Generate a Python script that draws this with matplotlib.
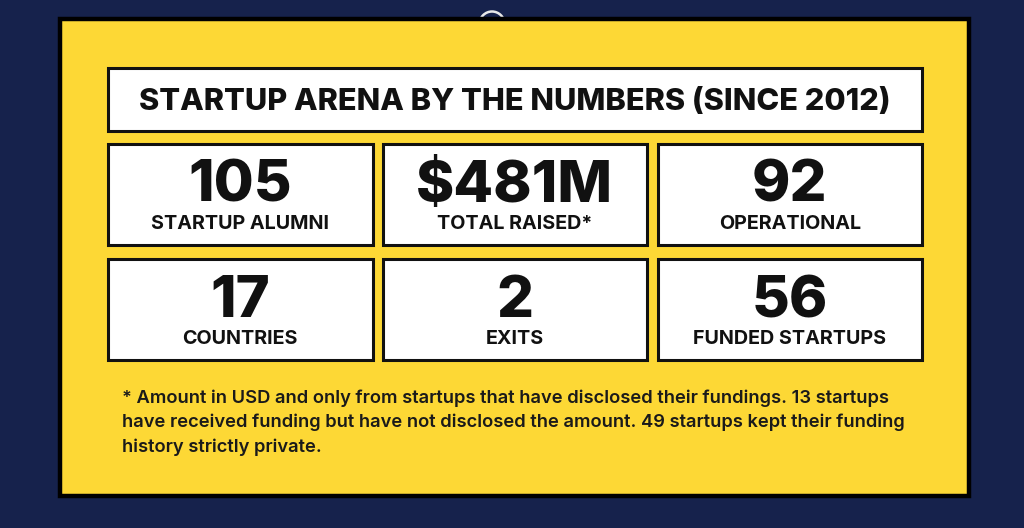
import matplotlib
matplotlib.use("Agg")
import matplotlib.pyplot as plt
from matplotlib.patches import Rectangle, Circle

title = "STARTUP ARENA BY THE NUMBERS (SINCE 2012)"
values = ["105", "$481M", "92", "17", "2", "56"]
labels = ["STARTUP ALUMNI", "TOTAL RAISED*", "OPERATIONAL",
          "COUNTRIES", "EXITS", "FUNDED STARTUPS"]
footnote_lines = [
    "* Amount in USD and only from startups that have disclosed their fundings. 13 startups",
    "have received funding but have not disclosed the amount. 49 startups kept their funding",
    "history strictly private.",
]

NAVY = "#16224c"
YELLOW = "#fdd835"
INK = "#111111"
HEAD = ["Inter", "DejaVu Sans"]
BODY = ["Inter", "DejaVu Sans"]

fig = plt.figure(figsize=(10.24, 5.28), dpi=100)
fig.patch.set_facecolor(NAVY)
ax = fig.add_axes([0, 0, 1, 1])
ax.set_xlim(0, 1024)
ax.set_ylim(528, 0)
ax.axis("off")
renderer = fig.canvas.get_renderer()


def fit(t, target_px):
    """Scale a text's font size so its rendered width is target_px."""
    wpx = t.get_window_extent(renderer).width
    t.set_fontsize(t.get_fontsize() * target_px / wpx)
    return t.get_fontsize()


# small ring peeking behind panel
ax.add_patch(Circle((492, 24), 12.5, fill=False, ec="#e8e8e8", lw=1.8, zorder=1))

# yellow panel
ax.add_patch(Rectangle((59.5, 19), 909, 477, fc=YELLOW, ec="black", lw=3.2, zorder=2))

# title box
ax.add_patch(Rectangle((108, 67.5), 814, 63, fc="white", ec=INK, lw=2.2, zorder=3))
tt = ax.text(515, 110, title, ha="center", va="baseline", fontsize=18,
             fontweight=800, family=HEAD, color=INK, zorder=4)
fit(tt, 750)

xs = [108, 382.5, 657.5]
ys = [143.5, 258.5]
w, h = 264.5, 101
num_texts, lab_texts = [], []
for i, (v, lab) in enumerate(zip(values, labels)):
    x0 = xs[i % 3]
    y0 = ys[i // 3]
    ax.add_patch(Rectangle((x0, y0), w, h, fc="white", ec=INK, lw=2.2, zorder=3))
    cx = x0 + w / 2
    num_texts.append(ax.text(cx, y0 + 58.5, v, ha="center", va="baseline", fontsize=42,
                             fontweight=800, family=HEAD, color=INK, zorder=4))
    lab_texts.append(ax.text(cx, y0 + 85.5, lab, ha="center", va="baseline", fontsize=13,
                             fontweight=700, family=HEAD, color=INK, zorder=4))

ns = fit(num_texts[1], 197)
for t in num_texts:
    t.set_fontsize(ns)
ls = fit(lab_texts[1], 156)
for t in lab_texts:
    t.set_fontsize(ls)

foot = [ax.text(122, y, s, ha="left", va="baseline", fontsize=12.5,
                fontweight=600, family=BODY, color="#1a1a1a", zorder=4)
        for s, y in zip(footnote_lines, [403, 427.3, 451.6])]
fs = fit(foot[0], 766)
for t in foot:
    t.set_fontsize(fs)

fig.savefig("out.png", dpi=100, facecolor=NAVY)
